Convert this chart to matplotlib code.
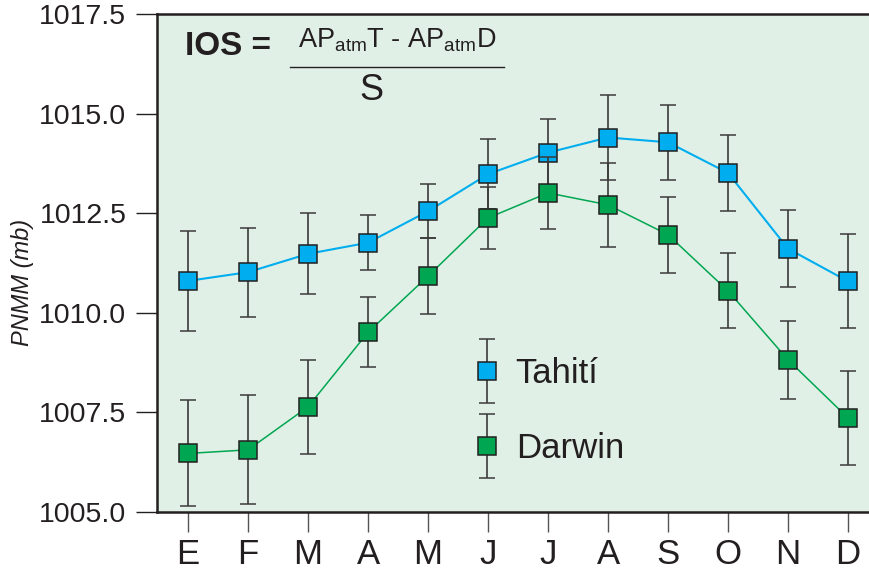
import matplotlib
matplotlib.use("Agg")
import matplotlib.pyplot as plt
from matplotlib.container import ErrorbarContainer
from matplotlib.legend_handler import HandlerErrorbar
from matplotlib.lines import Line2D

months = ['E', 'F', 'M', 'A', 'M', 'J', 'J', 'A', 'S', 'O', 'N', 'D']
tahiti = [1010.80, 1011.02, 1011.48, 1011.76, 1012.55, 1013.48,
          1014.02, 1014.40, 1014.28, 1013.51, 1011.61, 1010.79]
tahiti_err = [1.26, 1.12, 1.02, 0.69, 0.68, 0.87, 0.84, 1.06, 0.94, 0.95, 0.97, 1.18]
darwin = [1006.47, 1006.56, 1007.64, 1009.51, 1010.92, 1012.38,
          1013.01, 1012.71, 1011.96, 1010.55, 1008.82, 1007.36]
darwin_err = [1.33, 1.37, 1.18, 0.88, 0.95, 0.79, 0.91, 1.05, 0.95, 0.94, 0.98, 1.17]
yticks = [1005.0, 1007.5, 1010.0, 1012.5, 1015.0, 1017.5]

FONT = ['Liberation Sans', 'DejaVu Sans']
plt.rcParams['font.family'] = FONT
plt.rcParams['mathtext.fontset'] = 'custom'
plt.rcParams['mathtext.rm'] = 'Liberation Sans'
plt.rcParams['mathtext.it'] = 'Liberation Sans:italic'
plt.rcParams['mathtext.bf'] = 'Liberation Sans:bold'

BLUE = '#00AEEF'
GREEN = '#00A651'
BG = '#E1F0E6'
DARK = '#231F20'
ERR = '#3a3a3a'

fig = plt.figure(figsize=(8.7, 5.76), dpi=100)
ax = fig.add_axes([157/870, 1 - 512/576, 1 - 157/870, (512 - 14)/576])
ax.set_facecolor(BG)

x = list(range(len(months)))

def series(vals, errs, color, lw, z):
    ax.plot(x, vals, color=color, lw=lw, zorder=z)
    return ax.errorbar(x, vals, yerr=errs, ls='none',
                       marker='s', markersize=13.5, markerfacecolor=color,
                       markeredgecolor=DARK, markeredgewidth=1.1,
                       ecolor=ERR, elinewidth=1.2, capsize=5.5, capthick=1.2,
                       zorder=z)

h1 = series(tahiti, tahiti_err, BLUE, 1.5, 3)
h2 = series(darwin, darwin_err, GREEN, 1.1, 4)

ax.set_xlim(-0.517, (870 - 188) / 60)
ax.set_ylim(1005.0, 1017.5)
ax.set_xticks(x)
ax.set_xticklabels(months)
ax.set_yticks(yticks)
ax.set_yticklabels([f'{v:.1f}' for v in yticks])

ax.tick_params(axis='x', length=14.5, width=1.0, color='#555555', pad=4,
               labelsize=25, labelcolor=DARK)
ax.tick_params(axis='y', length=15, width=1.0, color=DARK, pad=7,
               labelsize=20.5, labelcolor=DARK)

for s in ['left', 'bottom', 'top']:
    ax.spines[s].set_color(DARK)
    ax.spines[s].set_linewidth(1.8)
ax.spines['right'].set_visible(False)

ax.set_ylabel('PNMM (mb)', fontsize=17, style='italic', color=DARK)
ax.yaxis.set_label_coords(-0.172, 0.46)

leg = ax.legend([h1, h2], ['Tahití', 'Darwin'], loc='center left',
                bbox_to_anchor=((473 - 157) / 713, (512 - 411) / 498),
                frameon=False, fontsize=25, handlelength=0.8,
                handletextpad=0.43, labelspacing=1.21, borderpad=0,
                borderaxespad=0, numpoints=1,
                handler_map={ErrorbarContainer: HandlerErrorbar(xerr_size=0.5, yerr_size=0.92)})
for t in leg.get_texts():
    t.set_color(DARK)

# Formula
fig.text(185/870, 1 - 55/576, 'IOS =', fontsize=24, fontweight='bold',
         color=DARK, ha='left', va='baseline')
fig.text(397/870, 1 - 47/576, r'AP$_{\rm atm}$T - AP$_{\rm atm}$D', fontsize=19.5,
         color=DARK, ha='center', va='baseline')
fig.add_artist(Line2D([290/870, 504/870], [1 - 66.7/576, 1 - 66.7/576],
                      color=DARK, lw=1.0))
fig.text(371/870, 1 - 100.5/576, 'S', fontsize=26, color=DARK,
         ha='center', va='baseline')

fig.savefig('out.png', dpi=100, facecolor='white')
